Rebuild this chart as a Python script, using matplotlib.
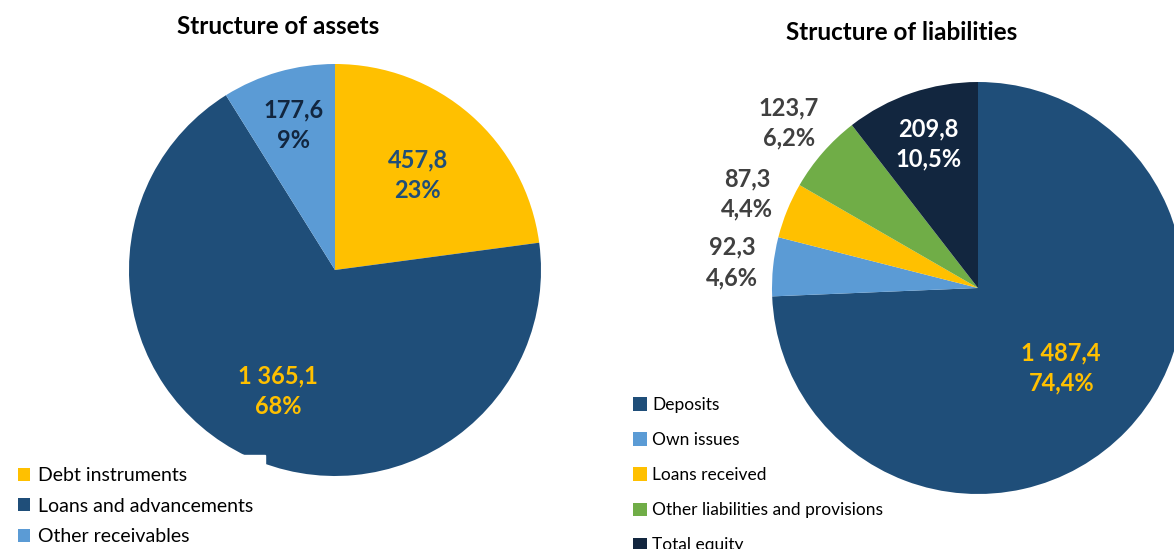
import numpy as np
import matplotlib.pyplot as plt
from matplotlib.patches import Patch

plt.rcParams['font.family'] = ['Lato', 'DejaVu Sans']

# assets
asset_labels = ["Debt instruments", "Loans and advancements", "Other receivables"]
asset_values = [457.8, 1365.1, 177.6]
asset_colors = ["#FFC000", "#1F4E79", "#5B9BD5"]
asset_text_colors = ["#1F4E79", "#FFC000", "#12263F"]

# liabilities
liab_labels = ["Deposits", "Own issues", "Loans received",
               "Other liabilities and provisions", "Total equity"]
liab_values = [1487.4, 92.3, 87.3, 123.7, 209.8]
liab_colors = ["#1F4E79", "#5B9BD5", "#FFC000", "#70AD47", "#12263F"]
liab_text_colors = ["#FFC000", "#404040", "#404040", "#404040", "#FFFFFF"]


def fmt_num(v):
    s = f"{v:,.1f}"
    return s.replace(",", " ").replace(".", ",")


W, H = 1174, 549
fig = plt.figure(figsize=(W / 100, H / 100), dpi=100)


def px_axes(x0, y0, size):
    # x0, y0 = top-left in pixels
    ax = fig.add_axes([x0 / W, (H - y0 - size) / H, size / W, size / H])
    ax.axis("off")
    return ax


def draw_pie(ax, values, colors, text_colors, radii, texts):
    wedges, _ = ax.pie(values, colors=colors, startangle=90, counterclock=False,
                       radius=1, wedgeprops=dict(linewidth=0))
    ax.set_xlim(-1, 1)
    ax.set_ylim(-1, 1)
    for w, tc, r, t in zip(wedges, text_colors, radii, texts):
        mid = np.deg2rad((w.theta1 + w.theta2) / 2)
        ax.text(r * np.cos(mid), r * np.sin(mid), t, ha="center", va="center",
                color=tc, fontsize=17, fontweight="bold", linespacing=1.4,
                clip_on=False)
    return wedges


# left pie
ax1 = px_axes(129, 64, 412)
tot_a = sum(asset_values)
asset_texts = [f"{fmt_num(v)}\n{round(100 * v / tot_a)}%" for v in asset_values]
draw_pie(ax1, asset_values, asset_colors, asset_text_colors, [0.61, 0.65, 0.73], asset_texts)

# right pie
ax2 = px_axes(772, 82, 412)
tot_l = sum(liab_values)
liab_texts = [f"{fmt_num(v)}\n{100 * v / tot_l:.1f}%".replace(".", ",") for v in liab_values]
draw_pie(ax2, liab_values, liab_colors, liab_text_colors, [0.56, 1.2, 1.21, 1.22, 0.74], liab_texts)

fig.text(278 / W, 1 - 27 / H, "Structure of assets", ha="center", va="center",
         fontsize=17.5, fontweight="bold")
fig.text(902 / W, 1 - 32 / H, "Structure of liabilities", ha="center", va="center",
         fontsize=17.5, fontweight="bold")

# legends
h1 = [Patch(facecolor=c, edgecolor="none") for c in asset_colors]
leg1 = fig.legend(h1, asset_labels, loc="lower left", bbox_to_anchor=(0.0, -0.025),
                  frameon=True, fancybox=False, framealpha=1, edgecolor="white",
                  fontsize=14, handlelength=0.65, handleheight=0.65, handletextpad=0.4,
                  labelspacing=0.7, borderpad=0.6, borderaxespad=0.3)

h2 = [Patch(facecolor=c, edgecolor="none") for c in liab_colors]
leg2 = fig.legend(h2, liab_labels, loc="lower left", bbox_to_anchor=(621 / W, -0.03),
                  frameon=False, fontsize=12.5, handlelength=0.8, handleheight=0.8,
                  handletextpad=0.3, labelspacing=1.1, borderaxespad=0.3)

fig.savefig("out.png", dpi=100)
